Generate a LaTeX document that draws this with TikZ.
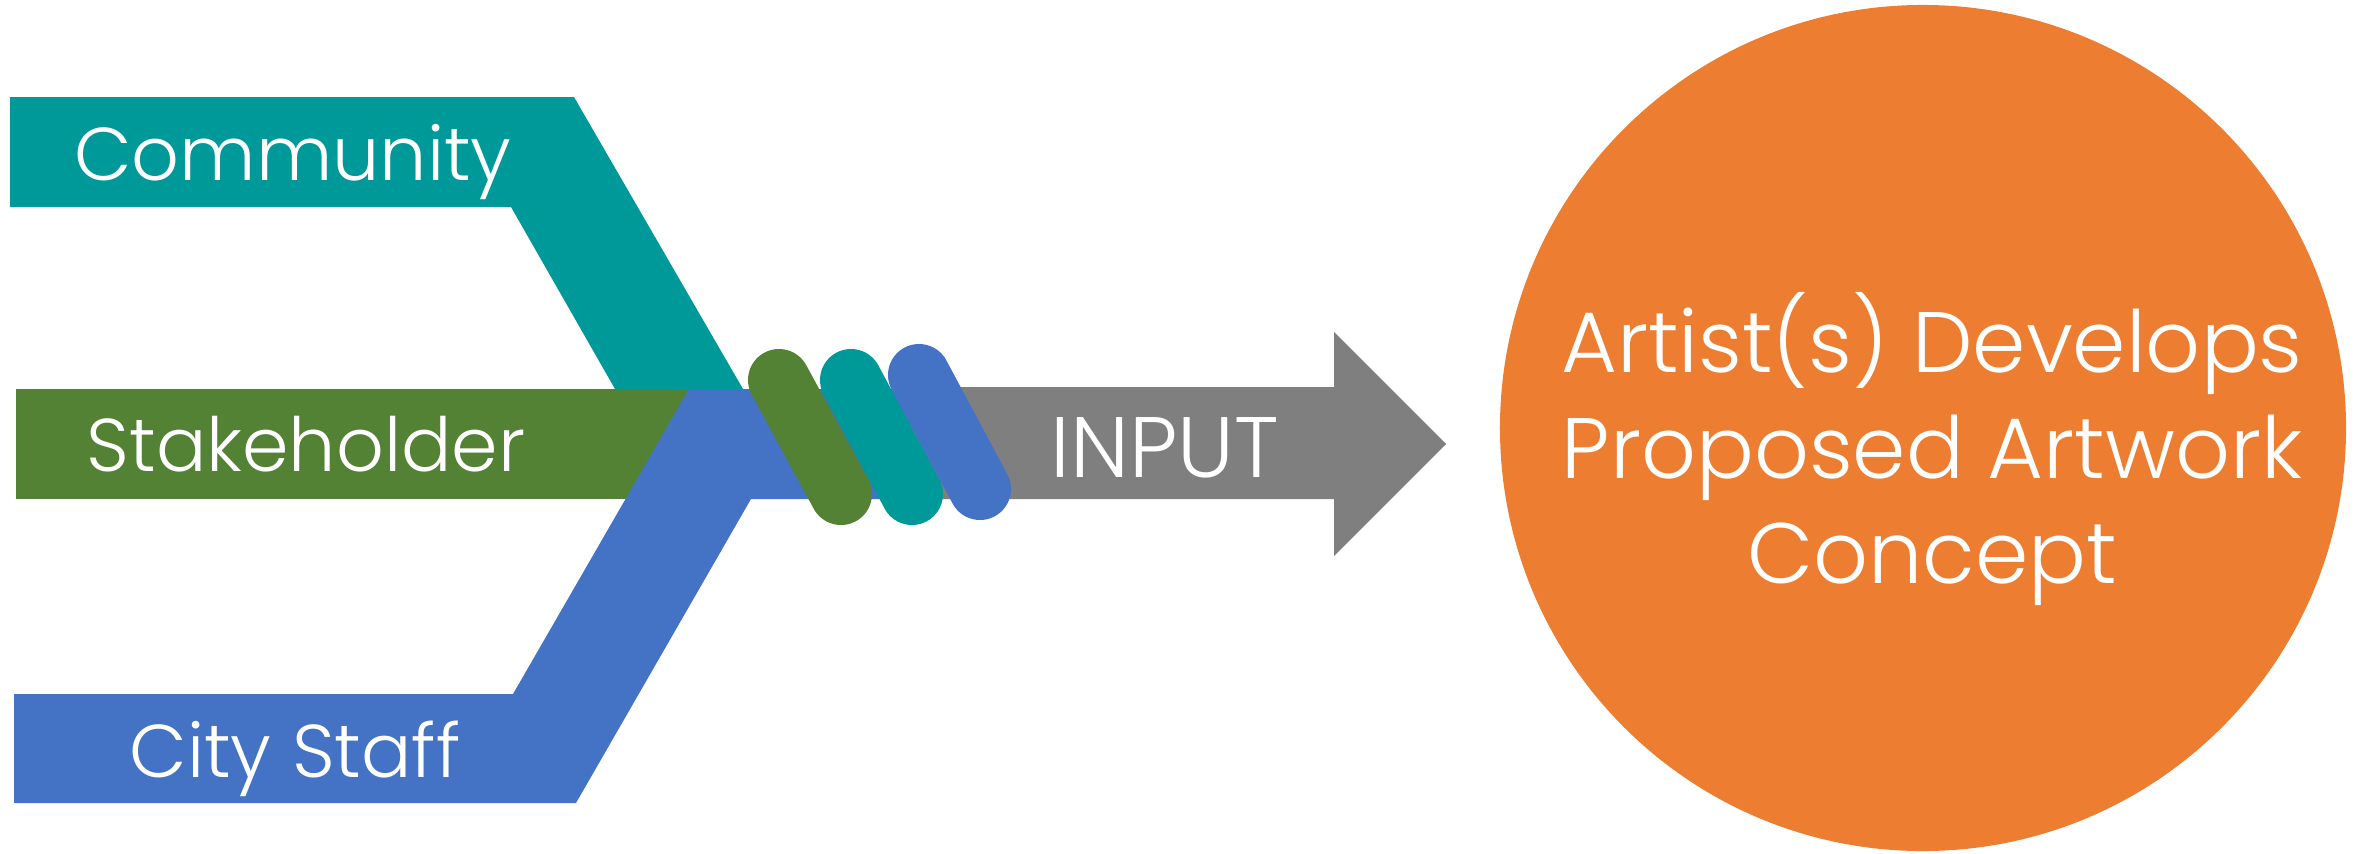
\documentclass[tikz,border=0pt]{standalone}
\usepackage{fontspec}
\setmainfont{Poppins Light}
\definecolor{commTeal}{RGB}{0,153,153}
\definecolor{stakeGreen}{RGB}{84,130,53}
\definecolor{staffBlue}{RGB}{68,114,196}
\definecolor{inputGray}{RGB}{127,127,127}
\definecolor{conceptOrange}{RGB}{237,125,49}
\begin{document}
\begin{tikzpicture}[x=0.254mm, y=-0.254mm,
    strand/.style={line width=15.75mm, line cap=round},
    label/.style={text=white, anchor=base, font=\fontsize{54}{64}\selectfont}]
      \useasboundingbox (0,0) rectangle (2362,853);

      % Arrow
      \fill[inputGray] (900,387) -- (1334,387) -- (1334,332) -- (1446,444)
        -- (1334,556) -- (1334,499) -- (900,499) -- cycle;

      % Bands
      \fill[commTeal] (10,97) -- (574,97) -- (743,389) -- (615,389)
        -- (511,207) -- (10,207) -- cycle;
      \fill[stakeGreen] (16,389) rectangle (760,499);
      \fill[staffBlue] (14,694) -- (513,694) -- (689,389) -- (910,389)
        -- (910,499) -- (751,499) -- (576,803) -- (14,803) -- cycle;

      % Strands
      \draw[strand, stakeGreen] (779,380) -- (841,494);
      \draw[strand, commTeal] (851,380) -- (912,494);
      \draw[strand, staffBlue] (919,375) -- (980,489);

      % Nodes
      \node[label] (community) at (293,180) {Community};
      \node[label] (stakeholder) at (306,471) {Stakeholder};
      \node[label] (staff) at (295,777) {City Staff};
      \node[label, font=\fontsize{62}{70}\selectfont] (input) at (1165,477) {INPUT};
      \node[circle, fill=conceptOrange, minimum size=214.9mm, inner sep=0] (concept) at (1923,428) {};
      \node[text=white, align=center, font=\fontsize{62}{75.9}\selectfont] (conceptText) at (1932,449)
        {Artist(s) Develops\\Proposed Artwork\\Concept};
    \end{tikzpicture}
\end{document}
